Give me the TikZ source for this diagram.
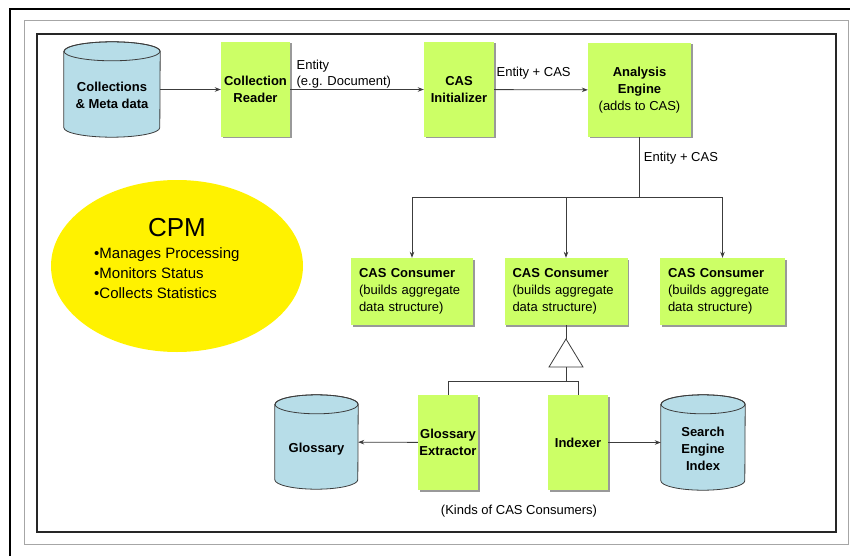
\documentclass[tikz,border=0pt]{standalone}
\usepackage{fontspec}
\setmainfont{Liberation Sans}
\usetikzlibrary{arrows.meta,calc,shadows,backgrounds,shapes.geometric}
\definecolor{procgreen}{RGB}{204,255,102}
\definecolor{storeblue}{RGB}{183,221,232}
\definecolor{linegray}{RGB}{60,60,60}
\tikzset{
%Define standard arrow tip
>={Stealth[length=6pt,width=4.5pt]},
%Define styles for boxes, stores, texts and lines
proc/.style={rectangle, fill=procgreen, inner sep=0pt, align=center,
  font=\fontsize{13}{17}\selectfont,
  drop shadow={shadow xshift=1.5pt, shadow yshift=-1.5pt, fill=black!40, opacity=1}},
store/.style={rectangle, inner sep=0pt},
storetxt/.style={font=\fontsize{13}{17}\selectfont\bfseries, align=center, inner sep=0pt},
flow/.style={draw=linegray, line width=0.8pt},
lbl/.style={font=\fontsize{13}{16}\selectfont, inner sep=1pt, align=left},
}
% cylinder behind a store node: #1 node, #2 half width
\newcommand{\drawstore}[2]{%
  \begin{pgfonlayer}{background}
  \filldraw[fill=storeblue, draw=linegray, line width=0.8pt]
    ([yshift=-9.5pt]#1.north west) -- ([yshift=9.5pt]#1.south west)
    arc[start angle=180, end angle=360, x radius=#2pt, y radius=9.5pt]
    -- ([yshift=-9.5pt]#1.north east)
    arc[start angle=0, end angle=180, x radius=#2pt, y radius=9.5pt] -- cycle;
  \draw[draw=linegray, line width=0.8pt] ([yshift=-9.5pt]#1.north)
    ellipse[x radius=#2pt, y radius=9.5pt];
  \end{pgfonlayer}}

\begin{document}
\begin{tikzpicture}[x=1pt, y=-1pt]
\useasboundingbox (0,0) rectangle (850,556);

% frames
\draw[black, line width=1.3pt] (10,556) -- (10,9) -- (850,9);
\draw[black!35, line width=1pt] (24.5,20.5) rectangle (848,544);
\draw[black!85, line width=2pt] (36.5,34) rectangle (836,532);

% top row
\node[store, minimum width=96pt, minimum height=95pt,
  label={[storetxt, yshift=-6pt]center:Collections\\\& Meta data}] (coll) at (112,89.5) {};
\node[proc, minimum width=69pt, minimum height=95pt, font=\fontsize{13}{17}\selectfont\bfseries]
  (reader) at (255.5,89.5) {Collection\\Reader};
\node[proc, minimum width=70pt, minimum height=95pt, font=\fontsize{13}{17}\selectfont\bfseries]
  (init) at (459,89.5) {CAS\\Initializer};
\node[proc, minimum width=103pt, minimum height=94pt]
  (engine) at (639.5,90) {\textbf{Analysis}\\\textbf{Engine}\\(adds to CAS)};
\drawstore{coll}{48}

\draw[flow,->] (coll) -- (reader);
\draw[flow,->] (reader) -- node[lbl, pos=0, anchor=south west, xshift=5pt] {Entity\\(e.g. Document)} (init);
\draw[flow,->] (init) -- node[lbl, pos=0, anchor=south west, yshift=9pt, xshift=1pt] {Entity + CAS} (engine);

% consumers
\node[proc, minimum height=67pt, text width=106pt, inner xsep=8pt, align=left]
  (cons1) at (412,291.5) {\textbf{CAS Consumer}\\(builds aggregate\\data structure)};
\node[proc, minimum height=67pt, text width=107pt, inner xsep=8pt, align=left]
  (cons2) at (566,291.5) {\textbf{CAS Consumer}\\(builds aggregate\\data structure)};
\node[proc, minimum height=67pt, text width=109pt, inner xsep=8pt, align=left]
  (cons3) at (722.5,291.5) {\textbf{CAS Consumer}\\(builds aggregate\\data structure)};

\coordinate (split) at (639.5,197);
\draw[flow] (engine.south) -- node[lbl, pos=.35, anchor=west, xshift=3pt] {Entity + CAS} (split);
\draw[flow,->] (split) -| (cons1);
\draw[flow,->] (split) -| (cons2);
\draw[flow,->] (split) -| (cons3);

% kinds of consumers
\coordinate (apex) at (566,339);
\coordinate (base) at (566,367);
\coordinate (join) at (566,381);
\draw[flow] (cons2.south) -- (apex);
\draw[flow, fill=white] (apex) -- (549,367) -- (583,367) -- cycle;

\node[proc, minimum width=60pt, minimum height=95pt, font=\fontsize{13}{17}\selectfont\bfseries]
  (gext) at (448,442.5) {Glossary\\Extractor};
\node[proc, minimum width=60pt, minimum height=95pt, font=\fontsize{13}{17}\selectfont\bfseries]
  (idx) at (578,442.5) {Indexer};
\node[store, minimum width=83pt, minimum height=94pt,
  label={[storetxt, yshift=-7pt]center:Glossary}] (gloss) at (316.5,442) {};
\node[store, minimum width=84pt, minimum height=95pt,
  label={[storetxt, yshift=-6.5pt]center:Search\\Engine\\Index}] (search) at (703,442.5) {};
\drawstore{gloss}{41.5}
\drawstore{search}{42}

\draw[flow] (base) -- (join);
\draw[flow] (join) -| (gext);
\draw[flow] (join) -| (idx);
\draw[flow,->] (gext) -- (gloss);
\draw[flow,->] (idx) -- (search);
\node[lbl] (kinds) at (519,511) {(Kinds of CAS Consumers)};

% CPM
\node[ellipse, fill=yellow, minimum width=252pt, minimum height=172pt] (cpm) at (177,266) {};
\node[font=\fontsize{26}{30}\selectfont, inner sep=0pt] (cpmtitle) at (177,228) {CPM};
\node[font=\fontsize{15}{20}\selectfont, align=left, anchor=west, inner sep=0pt] (cpmlist) at (94,273)
  {•Manages Processing\\•Monitors Status\\•Collects Statistics};

\end{tikzpicture}
\end{document}
